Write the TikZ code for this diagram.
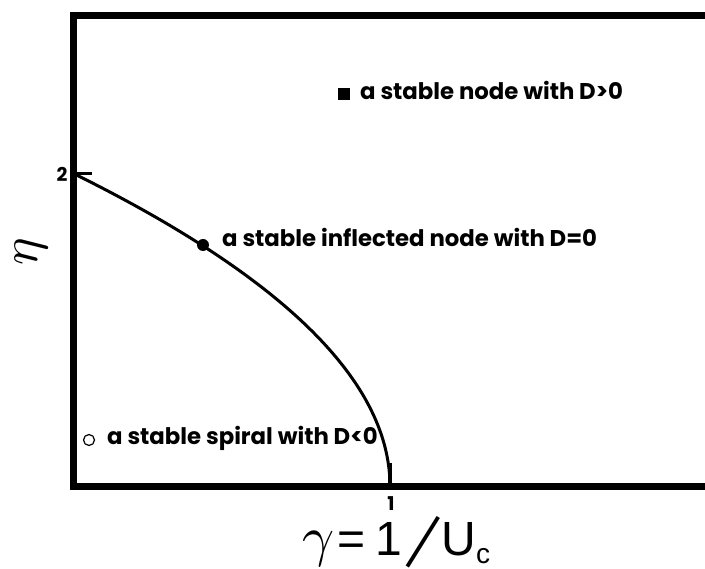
\documentclass[tikz,border=0pt]{standalone}
\usepackage{fontspec}
\newfontfamily\lblfont{Poppins}
\newfontfamily\axfont{Liberation Sans}
\begin{document}
\begin{tikzpicture}[x=1pt,y=-1pt,
  frame/.style={line width=7.5pt, line join=miter},
  curve/.style={line width=3pt},
  tickmark/.style={line width=3pt},
  lbl/.style={font=\lblfont\bfseries\fontsize{22.8}{22.8}\selectfont, inner sep=0pt, anchor=base west},
  ticklbl/.style={font=\lblfont\bfseries\fontsize{19}{19}\selectfont, inner sep=0pt},
  dotmark/.style={circle, fill=black, minimum size=12pt, inner sep=0pt},
  sqmark/.style={rectangle, fill=black, minimum size=12pt, inner sep=0pt},
  openmark/.style={circle, draw=black, line width=1.2pt, minimum size=11pt, inner sep=0pt}]
\useasboundingbox (0,0) rectangle (705,569);
\fill[white] (0,0) rectangle (705,569);
% frame
\coordinate (tr) at (705,15.5);
\coordinate (tl) at (73.5,15.5);
\coordinate (o) at (73.5,486.5);
\coordinate (br) at (705,486.5);
\draw[frame] (tr) -- (tl) -- (o) -- (br);
% curve eta = 2 sqrt(1-gamma)
\draw[curve] plot[domain=0:2, samples=120, smooth] ({73.5+316.5*(1-(\x/2)^2)}, {486.5-156.5*\x});
% ticks
\coordinate (ta) at (77,173.5);
\coordinate (tb) at (92,173.5);
\draw[tickmark] (ta) -- (tb);
\coordinate (tc) at (390,463);
\coordinate (td) at (390,486.5);
\draw[line width=4pt] (tc) -- (td);
\node[ticklbl] (two) at (62,174) {2};
\node[ticklbl] (one) at (391,504) {1};
% markers
\node[sqmark] (sq) at (344,94) {};
\node[dotmark] (inf) at (203,245) {};
\node[openmark] (sp) at (89,440) {};
% texts
\node[lbl] (tnode) at (360,99.5) {a stable node with D>0};
\node[lbl] (tinf) at (222,246.5) {a stable inflected node with D=0};
\node[lbl] (tsp) at (107,445) {a stable spiral with D<0};
% axis labels
\node[anchor=base west, inner sep=0pt] (xl) at (302,555) {\scalebox{5.6}{$\gamma$}\hspace{3pt}\axfont\fontsize{48}{48}\selectfont=\hspace{10pt}1\hspace{0pt}\raisebox{3pt}{\rotatebox{-32}{\scalebox{1}[1.3]{|}}}\hspace{-2pt}U\raisebox{-8pt}{\fontsize{28}{28}\selectfont c}};
\node[rotate=90, inner sep=0pt] (yl) at (31,252) {\scalebox{5.2}{$\eta$}};
\end{tikzpicture}
\end{document}
